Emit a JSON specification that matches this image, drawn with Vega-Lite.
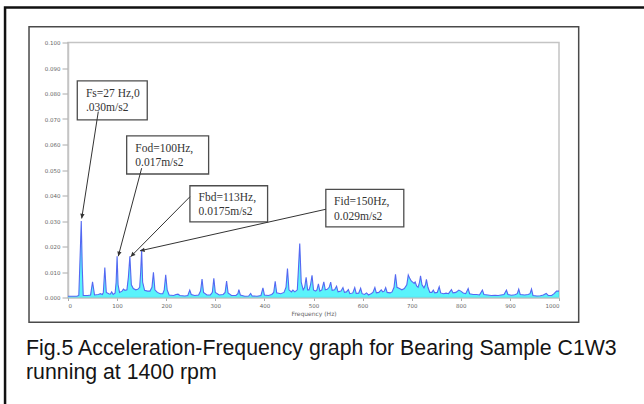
{
  "$schema": "https://vega.github.io/schema/vega-lite/v6.json",
  "width": 491,
  "height": 255,
  "autosize": {"type": "none"},
  "padding": {"left": 68, "top": 42.5, "right": 85, "bottom": 106.5},
  "background": "white",
  "config": {
    "view": {"stroke": "#c4c4c4", "strokeWidth": 1.5},
    "axis": {"labelOverlap": false, "grid": false},
    "axisY": {"tickCount": 11}
  },
  "datasets": {
    "spectrum": [
      {"f":0,"a":0.0005},{"f":10,"a":0.0005},{"f":18,"a":0.0005},{"f":22,"a":0.0008},{"f":25,"a":0.018},{"f":27,"a":0.030},{"f":29,"a":0.012},{"f":31,"a":0.0008},
      {"f":40,"a":0.0008},{"f":46,"a":0.001},{"f":50,"a":0.0061},{"f":54,"a":0.001},{"f":62,"a":0.0012},{"f":66,"a":0.0015},{"f":70,"a":0.0012},{"f":72,"a":0.002},{"f":75,"a":0.0118},{"f":78,"a":0.002},
      {"f":83,"a":0.0015},{"f":86,"a":0.0013},{"f":89,"a":0.0022},{"f":92,"a":0.0012},{"f":96,"a":0.0018},{"f":98,"a":0.006},{"f":100,"a":0.0162},{"f":102,"a":0.005},{"f":105,"a":0.002},
      {"f":110,"a":0.0025},{"f":113,"a":0.0033},{"f":116,"a":0.0028},{"f":120,"a":0.003},{"f":123,"a":0.008},{"f":126,"a":0.0162},{"f":129,"a":0.005},{"f":133,"a":0.0035},{"f":138,"a":0.003},
      {"f":142,"a":0.0032},{"f":146,"a":0.004},{"f":148,"a":0.01},{"f":150,"a":0.0188},{"f":152,"a":0.006},{"f":156,"a":0.0028},{"f":162,"a":0.0025},{"f":167,"a":0.0025},{"f":171,"a":0.004},
      {"f":174,"a":0.0099},{"f":177,"a":0.003},{"f":182,"a":0.002},{"f":188,"a":0.0015},{"f":193,"a":0.0015},{"f":196,"a":0.003},{"f":199,"a":0.0089},{"f":202,"a":0.003},{"f":206,"a":0.001},
      {"f":215,"a":0.0008},{"f":220,"a":0.0012},{"f":224,"a":0.0013},{"f":228,"a":0.0008},{"f":238,"a":0.0006},{"f":244,"a":0.0008},{"f":248,"a":0.0029},{"f":251,"a":0.0012},{"f":258,"a":0.0008},
      {"f":266,"a":0.001},{"f":270,"a":0.0025},{"f":273,"a":0.0072},{"f":276,"a":0.002},{"f":283,"a":0.001},{"f":290,"a":0.001},{"f":294,"a":0.002},{"f":297,"a":0.0075},{"f":300,"a":0.002},
      {"f":308,"a":0.001},{"f":316,"a":0.0012},{"f":320,"a":0.002},{"f":323,"a":0.0064},{"f":326,"a":0.0018},{"f":333,"a":0.0008},{"f":342,"a":0.0008},{"f":346,"a":0.0015},{"f":348,"a":0.0031},
      {"f":351,"a":0.001},{"f":360,"a":0.0005},{"f":368,"a":0.0006},{"f":372,"a":0.0016},{"f":375,"a":0.0006},{"f":385,"a":0.0005},{"f":393,"a":0.0008},{"f":397,"a":0.0038},{"f":400,"a":0.001},
      {"f":408,"a":0.0008},{"f":415,"a":0.0012},{"f":419,"a":0.002},{"f":422,"a":0.0063},{"f":425,"a":0.0018},{"f":433,"a":0.0015},{"f":440,"a":0.002},{"f":444,"a":0.004},{"f":447,"a":0.0114},
      {"f":450,"a":0.003},{"f":455,"a":0.0022},{"f":458,"a":0.0029},{"f":462,"a":0.0022},{"f":467,"a":0.003},{"f":469,"a":0.01},{"f":472,"a":0.0212},{"f":475,"a":0.006},{"f":479,"a":0.003},
      {"f":482,"a":0.004},{"f":485,"a":0.0079},{"f":488,"a":0.003},{"f":491,"a":0.003},{"f":494,"a":0.005},{"f":497,"a":0.0087},{"f":500,"a":0.003},{"f":504,"a":0.0025},{"f":507,"a":0.003},
      {"f":510,"a":0.0053},{"f":513,"a":0.0025},{"f":517,"a":0.003},{"f":521,"a":0.0061},{"f":524,"a":0.003},{"f":528,"a":0.0032},{"f":532,"a":0.004},{"f":535,"a":0.006},{"f":538,"a":0.0028},
      {"f":543,"a":0.003},{"f":547,"a":0.0044},{"f":550,"a":0.0022},{"f":556,"a":0.0025},{"f":560,"a":0.0039},{"f":563,"a":0.002},{"f":567,"a":0.0022},{"f":571,"a":0.0031},{"f":574,"a":0.0015},
      {"f":580,"a":0.0018},{"f":584,"a":0.0039},{"f":587,"a":0.0016},{"f":592,"a":0.0017},{"f":596,"a":0.0036},{"f":599,"a":0.0015},{"f":604,"a":0.0012},{"f":608,"a":0.0018},{"f":612,"a":0.001},
      {"f":617,"a":0.0015},{"f":621,"a":0.002},{"f":625,"a":0.0039},{"f":628,"a":0.0018},{"f":633,"a":0.002},{"f":638,"a":0.003},{"f":641,"a":0.0022},{"f":644,"a":0.0025},{"f":647,"a":0.0039},
      {"f":650,"a":0.002},{"f":656,"a":0.0018},{"f":660,"a":0.0022},{"f":664,"a":0.004},{"f":667,"a":0.0091},{"f":670,"a":0.004},{"f":675,"a":0.0035},{"f":680,"a":0.003},{"f":685,"a":0.0035},
      {"f":690,"a":0.005},{"f":693,"a":0.0088},{"f":696,"a":0.0075},{"f":699,"a":0.0065},{"f":702,"a":0.006},{"f":705,"a":0.0055},{"f":707,"a":0.0061},{"f":710,"a":0.0045},{"f":713,"a":0.004},
      {"f":716,"a":0.006},{"f":718,"a":0.0085},{"f":721,"a":0.005},{"f":725,"a":0.0038},{"f":728,"a":0.005},{"f":730,"a":0.0071},{"f":733,"a":0.004},{"f":737,"a":0.002},{"f":741,"a":0.002},
      {"f":744,"a":0.0029},{"f":747,"a":0.0018},{"f":752,"a":0.002},{"f":756,"a":0.0042},{"f":759,"a":0.0018},{"f":765,"a":0.0015},{"f":770,"a":0.0017},{"f":775,"a":0.0015},{"f":781,"a":0.0031},
      {"f":784,"a":0.0018},{"f":790,"a":0.002},{"f":796,"a":0.0029},{"f":800,"a":0.0025},{"f":805,"a":0.0018},{"f":810,"a":0.0015},{"f":815,"a":0.0035},{"f":818,"a":0.0015},{"f":825,"a":0.0012},
      {"f":832,"a":0.0012},{"f":838,"a":0.001},{"f":844,"a":0.0029},{"f":847,"a":0.0012},{"f":855,"a":0.001},{"f":862,"a":0.0008},{"f":870,"a":0.0009},{"f":876,"a":0.0008},{"f":882,"a":0.001},
      {"f":888,"a":0.0012},{"f":893,"a":0.0029},{"f":896,"a":0.0012},{"f":903,"a":0.0009},{"f":910,"a":0.0011},{"f":915,"a":0.0015},{"f":918,"a":0.0033},{"f":921,"a":0.0012},{"f":930,"a":0.001},
      {"f":937,"a":0.0012},{"f":941,"a":0.0015},{"f":944,"a":0.0033},{"f":947,"a":0.0008},{"f":955,"a":0.0006},{"f":962,"a":0.0007},{"f":968,"a":0.001},{"f":974,"a":0.0016},{"f":978,"a":0.0008},
      {"f":985,"a":0.0008},{"f":990,"a":0.0015},{"f":995,"a":0.0025},{"f":1000,"a":0.0025}
    ],
    "notes": [
      {"x1":18.9,"x2":161.4,"y1":0.08496,"y2":0.06963,"tx":36.6,"ty":0.07879,"label":"Fs=27 Hz,0\n.030m/s2"},
      {"x1":119.5,"x2":286.4,"y1":0.06335,"y2":0.04843,"tx":137,"ty":0.05719,"label":"Fod=100Hz,\n0.017m/s2"},
      {"x1":248.3,"x2":406.5,"y1":0.04383,"y2":0.02969,"tx":266,"ty":0.03794,"label":"Fbd=113Hz,\n0.0175m/s2"},
      {"x1":525.1,"x2":683.9,"y1":0.04242,"y2":0.02773,"tx":542,"ty":0.03625,"label":"Fid=150Hz,\n0.029m/s2"}
    ],
    "arrows": [
      {"sx":61.7,"sy":0.0729,"ex":27.9,"ey":0.0310},
      {"sx":150,"sy":0.0507,"ex":102.4,"ey":0.0162},
      {"sx":248.3,"sy":0.0395,"ex":127.6,"ey":0.0160},
      {"sx":525.1,"sy":0.0346,"ex":146.6,"ey":0.0183}
    ],
    "caption": [
      {"cx": -85.5, "cy": -0.0226, "text": "Fig.5 Acceleration-Frequency graph for Bearing Sample C1W3\nrunning at 1400 rpm"}
    ],
    "frame": [{}]
  },
  "layer": [
    {
      "data": {"name": "spectrum"},
      "mark": {"type": "area", "color": "#14eefa", "line": {"color": "#5468f2", "strokeWidth": 1.1}},
      "encoding": {
        "x": {
          "field": "f", "type": "quantitative",
          "scale": {"domain": [0, 1000], "nice": false, "zero": false},
          "axis": {
            "values": [0, 100, 200, 300, 400, 500, 600, 700, 800, 900, 1000],
            "format": "d",
            "title": "Frequency (Hz)", "titleFont": "DejaVu Sans", "titleFontSize": 6, "titleFontWeight": "normal", "titleColor": "#666", "titlePadding": 1,
            "labelFont": "DejaVu Sans", "labelFontSize": 5.5, "labelColor": "#666", "labelPadding": 3, "labelOverlap": false,
            "tickSize": 3, "tickColor": "#aaa", "domainColor": "#c4c4c4", "domainWidth": 1.5, "grid": false
          }
        },
        "y": {
          "field": "a", "type": "quantitative",
          "scale": {"domain": [0, 0.1], "nice": false},
          "axis": {
            "values": [0, 0.01, 0.02, 0.03, 0.04, 0.05, 0.06, 0.07, 0.08, 0.09, 0.1],
            "tickCount": 11,
            "format": ".3f", "title": null,
            "labelFont": "DejaVu Sans", "labelFontSize": 5.5, "labelColor": "#666", "labelPadding": 2, "labelOverlap": false,
            "tickSize": 6, "tickColor": "#aaa", "domainColor": "#c4c4c4", "domainWidth": 1.5, "grid": false
          }
        }
      }
    },
    {
      "data": {"name": "frame"},
      "mark": {"type": "rect", "fill": "transparent", "stroke": "#111", "strokeWidth": 2.5},
      "encoding": {
        "x": {"datum": -128.2, "type": "quantitative"},
        "x2": {"datum": 1400},
        "y": {"datum": 0.1137, "type": "quantitative"},
        "y2": {"datum": -0.07}
      }
    },
    {
      "data": {"name": "frame"},
      "mark": {"type": "rect", "fill": "transparent", "stroke": "#4a4a4a", "strokeWidth": 1.5},
      "encoding": {
        "x": {"datum": -79.4, "type": "quantitative"},
        "x2": {"datum": 1040.1},
        "y": {"datum": 0.10617, "type": "quantitative"},
        "y2": {"datum": -0.0097}
      }
    },
    {
      "data": {"name": "caption"},
      "mark": {"type": "text", "font": "Liberation Sans", "fontSize": 21.3, "color": "#141414", "align": "left", "baseline": "alphabetic", "lineBreak": "\n", "lineHeight": 24},
      "encoding": {
        "x": {"field": "cx", "type": "quantitative"},
        "y": {"field": "cy", "type": "quantitative"},
        "text": {"field": "text"}
      }
    },
    {
      "data": {"name": "notes"},
      "mark": {"type": "rect", "fill": "white", "stroke": "#4d4d4d", "strokeWidth": 1.3},
      "encoding": {
        "x": {"field": "x1", "type": "quantitative"},
        "x2": {"field": "x2"},
        "y": {"field": "y1", "type": "quantitative"},
        "y2": {"field": "y2"}
      }
    },
    {
      "data": {"name": "notes"},
      "mark": {"type": "text", "font": "Liberation Serif", "fontSize": 11.5, "color": "#333", "align": "left", "baseline": "alphabetic", "lineBreak": "\n", "lineHeight": 14.5},
      "encoding": {
        "x": {"field": "tx", "type": "quantitative"},
        "y": {"field": "ty", "type": "quantitative"},
        "text": {"field": "label"}
      }
    },
    {
      "data": {"name": "arrows"},
      "mark": {"type": "rule", "color": "#333", "strokeWidth": 1},
      "encoding": {
        "x": {"field": "sx", "type": "quantitative"},
        "y": {"field": "sy", "type": "quantitative"},
        "x2": {"field": "ex"},
        "y2": {"field": "ey"}
      }
    },
    {
      "data": {"name": "arrows"},
      "transform": [{"calculate": "atan2(-(datum.ex - datum.sx) * 0.491, -(datum.ey - datum.sy) * 2550) * 180 / PI", "as": "ang"}],
      "mark": {"type": "point", "shape": "M-0.8,-1.7L0,0L0.8,-1.7Z", "filled": true, "color": "#333", "size": 30, "opacity": 1},
      "encoding": {
        "x": {"field": "ex", "type": "quantitative"},
        "y": {"field": "ey", "type": "quantitative"},
        "angle": {"field": "ang", "type": "quantitative", "scale": null}
      }
    }
  ]
}
